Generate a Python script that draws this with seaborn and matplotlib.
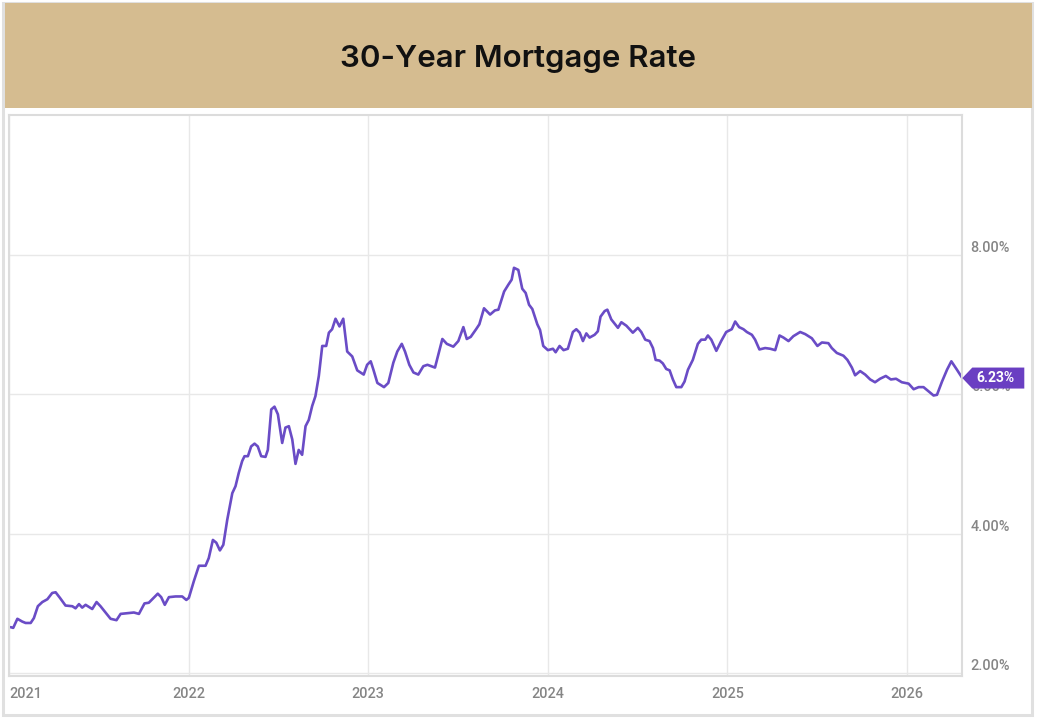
import pandas as pd
import matplotlib
matplotlib.use("Agg")
import matplotlib.pyplot as plt
import matplotlib.dates as mdates
import matplotlib.transforms as mtransforms
from matplotlib.patches import Rectangle, Polygon
import seaborn as sns

# weekly-ish readings, time as decimal year
years = [
    2021.007, 2021.022, 2021.045, 2021.072, 2021.091, 2021.119, 2021.137, 2021.159,
    2021.184, 2021.212, 2021.239, 2021.258, 2021.282, 2021.313, 2021.351, 2021.369,
    2021.388, 2021.406, 2021.425, 2021.462, 2021.486, 2021.508, 2021.536, 2021.564,
    2021.597, 2021.620, 2021.657, 2021.694, 2021.722, 2021.753, 2021.777, 2021.796,
    2021.827, 2021.846, 2021.866, 2021.889, 2021.926, 2021.963, 2021.986, 2022.000,
    2022.028, 2022.056, 2022.093, 2022.111, 2022.134, 2022.153, 2022.173, 2022.192,
    2022.214, 2022.242, 2022.260, 2022.278, 2022.297, 2022.310, 2022.329, 2022.347,
    2022.366, 2022.384, 2022.403, 2022.427, 2022.440, 2022.459, 2022.477, 2022.496,
    2022.520, 2022.538, 2022.557, 2022.576, 2022.594, 2022.612, 2022.631, 2022.650,
    2022.668, 2022.687, 2022.705, 2022.724, 2022.743, 2022.765, 2022.780, 2022.798,
    2022.817, 2022.839, 2022.860, 2022.882, 2022.910, 2022.938, 2022.974, 2022.993,
    2023.013, 2023.028, 2023.050, 2023.087, 2023.111, 2023.139, 2023.161, 2023.186,
    2023.204, 2023.228, 2023.251, 2023.278, 2023.306, 2023.329, 2023.371, 2023.412,
    2023.437, 2023.473, 2023.501, 2023.529, 2023.548, 2023.570, 2023.600, 2023.618,
    2023.644, 2023.678, 2023.705, 2023.724, 2023.756, 2023.780, 2023.798, 2023.811,
    2023.835, 2023.857, 2023.876, 2023.895, 2023.913, 2023.941, 2023.956, 2023.974,
    2024.000, 2024.028, 2024.043, 2024.065, 2024.087, 2024.111, 2024.139, 2024.158,
    2024.177, 2024.195, 2024.214, 2024.232, 2024.260, 2024.278, 2024.293, 2024.316,
    2024.331, 2024.353, 2024.390, 2024.409, 2024.437, 2024.473, 2024.501, 2024.520,
    2024.542, 2024.566, 2024.585, 2024.600, 2024.622, 2024.640, 2024.659, 2024.678,
    2024.696, 2024.715, 2024.743, 2024.761, 2024.780, 2024.807, 2024.835, 2024.854,
    2024.876, 2024.891, 2024.910, 2024.938, 2024.965, 2024.993,
    2025.024, 2025.043, 2025.065, 2025.089, 2025.108, 2025.136, 2025.154, 2025.178,
    2025.210, 2025.238, 2025.266, 2025.290, 2025.312, 2025.340, 2025.367, 2025.405,
    2025.433, 2025.470, 2025.501, 2025.526, 2025.562, 2025.581, 2025.609, 2025.646,
    2025.668, 2025.693, 2025.711, 2025.739, 2025.767, 2025.795, 2025.822, 2025.850,
    2025.882, 2025.910, 2025.939, 2025.971,
    2026.009, 2026.037, 2026.065, 2026.092, 2026.120, 2026.148, 2026.167, 2026.195,
    2026.223, 2026.247, 2026.278, 2026.308,
]
rates = [
    2.66, 2.65, 2.78, 2.74, 2.72, 2.72, 2.79, 2.96,
    3.02, 3.06, 3.15, 3.16, 3.08, 2.97, 2.96, 2.93,
    2.99, 2.94, 2.98, 2.92, 3.02, 2.96, 2.87, 2.78,
    2.76, 2.85, 2.86, 2.87, 2.85, 3.00, 3.01, 3.06,
    3.14, 3.09, 2.98, 3.09, 3.10, 3.10, 3.05, 3.08,
    3.32, 3.54, 3.54, 3.65, 3.91, 3.87, 3.76, 3.84,
    4.20, 4.58, 4.68, 4.87, 5.04, 5.11, 5.11, 5.25,
    5.29, 5.25, 5.11, 5.10, 5.20, 5.78, 5.82, 5.71,
    5.30, 5.52, 5.54, 5.35, 5.00, 5.20, 5.13, 5.54,
    5.63, 5.83, 5.97, 6.26, 6.69, 6.69, 6.88, 6.93,
    7.08, 6.97, 7.08, 6.61, 6.54, 6.34, 6.28, 6.42,
    6.47, 6.35, 6.16, 6.10, 6.16, 6.45, 6.61, 6.72,
    6.61, 6.42, 6.31, 6.28, 6.40, 6.42, 6.38, 6.79,
    6.72, 6.68, 6.76, 6.96, 6.79, 6.82, 6.93, 7.00,
    7.23, 7.14, 7.20, 7.21, 7.47, 7.57, 7.64, 7.81,
    7.78, 7.51, 7.45, 7.28, 7.22, 7.00, 6.92, 6.69,
    6.63, 6.65, 6.60, 6.69, 6.63, 6.65, 6.89, 6.93,
    6.88, 6.76, 6.87, 6.81, 6.85, 6.90, 7.11, 7.19,
    7.21, 7.07, 6.95, 7.03, 6.98, 6.88, 6.95, 6.89,
    6.78, 6.76, 6.66, 6.49, 6.48, 6.44, 6.36, 6.34,
    6.21, 6.10, 6.10, 6.18, 6.35, 6.49, 6.72, 6.78,
    6.78, 6.84, 6.78, 6.62, 6.76, 6.89,
    6.93, 7.04, 6.96, 6.93, 6.89, 6.85, 6.78, 6.64,
    6.66, 6.65, 6.63, 6.84, 6.81, 6.76, 6.83, 6.89,
    6.86, 6.80, 6.69, 6.74, 6.73, 6.66, 6.59, 6.55,
    6.49, 6.38, 6.27, 6.33, 6.28, 6.21, 6.17, 6.22,
    6.26, 6.21, 6.22, 6.17,
    6.15, 6.07, 6.10, 6.10, 6.04, 5.98, 5.99, 6.18,
    6.35, 6.47, 6.35, 6.23,
]

title = "30-Year Mortgage Rate"
ytick_values = [2, 4, 6, 8]

line_color = "#6a4cc6"
badge_color = "#6a3fc2"
band_color = "#d5bc90"
label_color = "#858585"
grid_color = "#e8e8e8"
spine_color = "#dcdcdc"


def to_dates(yrs):
    start = pd.Timestamp("2021-01-01")
    return [start + pd.Timedelta(days=(y - 2021) * 365.25) for y in yrs]


df = pd.DataFrame({"date": to_dates(years), "rate": rates})

W, H = 1037, 720
sns.set_style("white")
plt.rcParams["font.family"] = ["Roboto", "DejaVu Sans"]

fig = plt.figure(figsize=(W / 100, H / 100), dpi=100)
fig.patch.set_facecolor("white")

# outer frame and title band
fig.add_artist(Rectangle((3 / W, (H - 715) / H), 1029 / W, 712 / H, transform=fig.transFigure,
                         fill=False, edgecolor="#e0e0e0", linewidth=2.2))
fig.add_artist(Rectangle((5 / W, (H - 108) / H), 1027 / W, 104.5 / H, transform=fig.transFigure,
                         facecolor=band_color, edgecolor="none"))
fig.text(518 / W, (H - 59) / H, title, ha="center", va="center", fontsize=22.5,
         fontweight="semibold", family=["Inter", "DejaVu Sans"], color="#111111")

ax = fig.add_axes([9.3 / W, (H - 676) / H, 953 / W, 561 / H])
sns.lineplot(data=df, x="date", y="rate", ax=ax, color=line_color, linewidth=1.9,
             estimator=None)

ax.set_xlim(pd.Timestamp("2021-01-01"), df["date"].iloc[-1])
ax.set_ylim(1.96, 10.0)
ax.set_xlabel("")
ax.set_ylabel("")

ax.xaxis.set_major_locator(mdates.YearLocator())
ax.xaxis.set_major_formatter(mdates.DateFormatter("%Y"))
ax.set_yticks(ytick_values)
ax.set_yticklabels([f"{v:.2f}%" for v in ytick_values])
ax.yaxis.tick_right()

ax.grid(True, color=grid_color, linewidth=1)
ax.set_axisbelow(True)
for sp in ax.spines.values():
    sp.set_color(spine_color)
    sp.set_linewidth(1.5)

ax.tick_params(axis="x", length=0, pad=8, labelsize=10.4, labelcolor=label_color)
ax.tick_params(axis="y", length=0, pad=6, labelsize=10.4, labelcolor=label_color)
for lab in ax.get_xticklabels() + ax.get_yticklabels():
    lab.set_fontweight("medium")

fig.canvas.draw()
ax.get_xticklabels()[0].set_ha("left")
for lab in ax.get_yticklabels():
    lab.set_va("bottom")
    lab.set_fontweight("medium")
for lab in ax.get_xticklabels():
    lab.set_fontweight("medium")

# value badge at the last point
last_x = mdates.date2num(df["date"].iloc[-1])
last_y = df["rate"].iloc[-1]
ax_px, ay_px = ax.transData.transform((last_x, last_y))
verts = [(ax_px, ay_px), (ax_px + 10, ay_px + 10.5), (ax_px + 62, ay_px + 10.5),
         (ax_px + 62, ay_px - 10.5), (ax_px + 10, ay_px - 10.5)]
fig.add_artist(Polygon(verts, closed=True, transform=mtransforms.IdentityTransform(),
                       facecolor=badge_color, edgecolor="none", zorder=5))
fig.text(ax_px + 33, ay_px, f"{last_y:.2f}%", transform=mtransforms.IdentityTransform(),
         ha="center", va="center", fontsize=10, fontweight="bold", color="white", zorder=6)

fig.savefig("out.png", dpi=100)
plt.close(fig)
